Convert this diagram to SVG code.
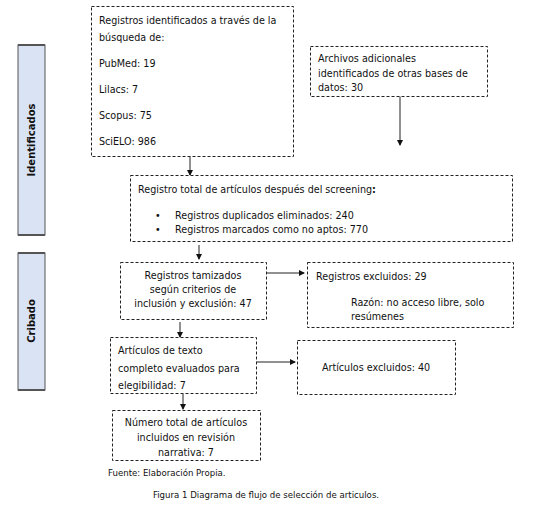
<svg xmlns="http://www.w3.org/2000/svg" width="534" height="511" viewBox="0 0 534 511">
<style>
.box{fill:#fff;stroke:#222;stroke-width:1;stroke-dasharray:3,2}
.t{font-family:"DejaVu Sans",Verdana,sans-serif;font-size:9.6px;fill:#111}
.c{text-anchor:middle}
.side{fill:#dae3f3;stroke:#555;stroke-width:1}
.sb{font-family:"DejaVu Sans",Verdana,sans-serif;font-size:10px;font-weight:bold;fill:#111;text-anchor:middle}
.ln{stroke:#222;stroke-width:1;fill:none;marker-end:url(#ah)}
.small{font-family:"DejaVu Sans",Verdana,sans-serif;font-size:8.6px;fill:#111}
</style>
<defs>
<marker id="ah" markerWidth="6" markerHeight="6" refX="5" refY="3" orient="auto" markerUnits="userSpaceOnUse">
<path d="M0,0 L6,3 L0,6 Z" fill="#111"/>
</marker>
</defs>
<rect width="534" height="511" fill="#fff"/>
<g id="side-identificados">
<rect class="side" x="18" y="45" width="27" height="190"/>
<line x1="18" y1="45" x2="45" y2="45" stroke="#555" stroke-width="2"/>
<line x1="18" y1="235" x2="45" y2="235" stroke="#555" stroke-width="2"/>
<text class="sb" transform="translate(35,140) rotate(-90)">Identificados</text>
</g>
<g id="side-cribado">
<rect class="side" x="18" y="253" width="27" height="137"/>
<line x1="18" y1="253" x2="45" y2="253" stroke="#555" stroke-width="2"/>
<line x1="18" y1="390" x2="45" y2="390" stroke="#555" stroke-width="2"/>
<text class="sb" transform="translate(35,321) rotate(-90)">Cribado</text>
</g>
<g id="connectors">
<line class="ln" x1="400" y1="96" x2="400" y2="145"/>
<line class="ln" x1="190" y1="156" x2="190" y2="175"/>
<line class="ln" x1="199" y1="245" x2="199" y2="259"/>
<line class="ln" x1="266" y1="273" x2="304" y2="273"/>
<line class="ln" x1="180" y1="322" x2="180" y2="337"/>
<line class="ln" x1="256" y1="362" x2="295" y2="362"/>
<line class="ln" x1="183" y1="394" x2="183" y2="409"/>
</g>
<g id="n1">
<rect class="box" x="91.5" y="6.5" width="202" height="150"/>
<text class="t" x="99" y="24">Registros identificados a través de la</text>
<text class="t" x="99" y="41">búsqueda de:</text>
<text class="t" x="99" y="67">PubMed: 19</text>
<text class="t" x="99" y="93">Lilacs: 7</text>
<text class="t" x="99" y="119">Scopus: 75</text>
<text class="t" x="99" y="145">SciELO: 986</text>
</g>
<g id="n2">
<rect class="box" x="310.5" y="46.5" width="177" height="50"/>
<text class="t" x="318" y="62">Archivos adicionales</text>
<text class="t" x="318" y="77">identificados de otras bases de</text>
<text class="t" x="318" y="91">datos: 30</text>
</g>
<g id="n3">
<rect class="box" x="130.5" y="175.5" width="382" height="66"/>
<text class="t" x="138" y="193">Registro total de artículos después del screening<tspan font-weight="bold">:</tspan></text>
<text class="t" x="155" y="219">•</text>
<text class="t" x="175" y="219">Registros duplicados eliminados: 240</text>
<text class="t" x="155" y="233">•</text>
<text class="t" x="175" y="233">Registros marcados como no aptos: 770</text>
</g>
<g id="n4">
<rect class="box" x="120.5" y="262.5" width="146" height="57"/>
<text class="t c" x="193" y="279">Registros tamizados</text>
<text class="t c" x="193" y="293">según criterios de</text>
<text class="t c" x="193" y="307">inclusión y exclusión: 47</text>
</g>
<g id="n5">
<rect class="box" x="307.5" y="262.5" width="206" height="65"/>
<text class="t" x="316" y="280">Registros excluidos: 29</text>
<text class="t" x="351" y="306">Razón: no acceso libre, solo</text>
<text class="t" x="351" y="320">resúmenes</text>
</g>
<g id="n6">
<rect class="box" x="110.5" y="337.5" width="146" height="56"/>
<text class="t" x="118" y="354">Artículos de texto</text>
<text class="t" x="118" y="372">completo evaluados para</text>
<text class="t" x="118" y="389">elegibilidad: 7</text>
</g>
<g id="n7">
<rect class="box" x="297.5" y="340.5" width="158" height="54"/>
<text class="t c" x="376" y="371">Artículos excluidos: 40</text>
</g>
<g id="n8">
<rect class="box" x="112.5" y="410.5" width="148" height="50"/>
<text class="t c" x="186" y="426">Número total de artículos</text>
<text class="t c" x="186" y="441">incluidos en revisión</text>
<text class="t c" x="186" y="456">narrativa: 7</text>
</g>
<text class="small" x="108" y="476">Fuente: Elaboración Propia.</text>
<text class="small c" x="266" y="498">Figura 1 Diagrama de flujo de selección de articulos.</text>
</svg>
